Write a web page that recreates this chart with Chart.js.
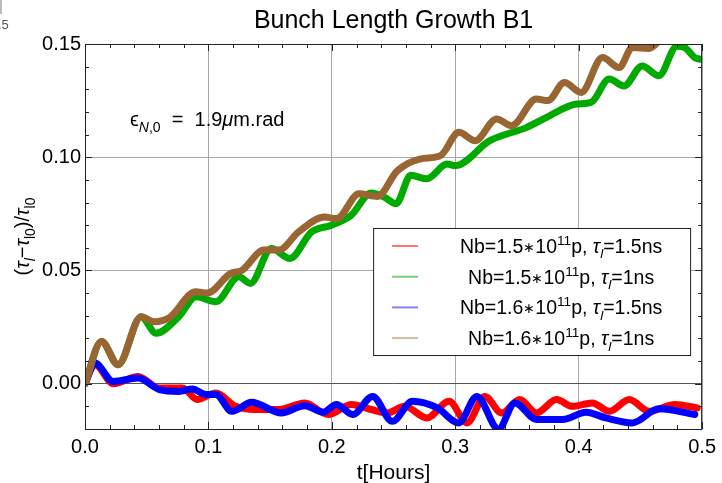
<!DOCTYPE html>
<html>
<head>
<meta charset="utf-8">
<script src="https://cdn.jsdelivr.net/npm/chart.js@4.4.1/dist/chart.umd.min.js"></script>
<style>
  html, body { margin: 0; padding: 0; background: #fff; }
  #wrap { width: 722px; height: 483px; position: relative; }
</style>
</head>
<body>
<div id="wrap"><canvas id="chart" width="722" height="483"></canvas></div>
<script>
// series values (t in hours, relative bunch length growth)
const redT = [0, 0.008, 0.023, 0.043, 0.060, 0.079, 0.091, 0.106, 0.122, 0.138, 0.157, 0.178, 0.197, 0.216, 0.232, 0.245, 0.259, 0.277, 0.295, 0.3095, 0.324, 0.3376, 0.3523, 0.3658, 0.382, 0.395, 0.411, 0.425, 0.441, 0.457, 0.478, 0.496]
const redV = [0, 0.0085, 0.0, 0.0032, -0.0019, -0.0019, -0.007, -0.0041, -0.010, -0.0114, -0.0114, -0.0085, -0.0136, -0.0092, -0.0114, -0.0129, -0.010, -0.0151, -0.0078, -0.0173, -0.0056, -0.0129, -0.007, -0.0129, -0.007, -0.010, -0.0085, -0.0122, -0.007, -0.0122, -0.0092, -0.0107]

const greenT = [0, 0.0134, 0.0268, 0.0455, 0.0576, 0.076, 0.090, 0.106, 0.1246, 0.134, 0.151, 0.166, 0.1835, 0.1996, 0.2157, 0.2318, 0.2425, 0.252, 0.264, 0.277, 0.2934, 0.300, 0.328, 0.358, 0.374, 0.398, 0.41, 0.4247, 0.4367, 0.4515, 0.4649, 0.4796, 0.486, 0.494, 0.498]
const greenV = [0, 0.0186, 0.0084, 0.0296, 0.0223, 0.0296, 0.0384, 0.0362, 0.0472, 0.0443, 0.0597, 0.0553, 0.067, 0.070, 0.0744, 0.0842, 0.0824, 0.0795, 0.092, 0.0905, 0.097, 0.0963, 0.1073, 0.1132, 0.1176, 0.1235, 0.1242, 0.1345, 0.1315, 0.1403, 0.136, 0.149, 0.1484, 0.144, 0.1433]

const blueT = [0, 0.008, 0.0228, 0.0429, 0.0603, 0.076, 0.087, 0.098, 0.106, 0.119, 0.135, 0.159, 0.178, 0.193, 0.2036, 0.217, 0.233, 0.249, 0.2653, 0.2854, 0.3028, 0.3175, 0.335, 0.3483, 0.3658, 0.387, 0.406, 0.422, 0.4435, 0.4649, 0.494]
const blueV = [0, 0.0091, 0.001, 0.0025, -0.0026, -0.0034, -0.0023, -0.0048, -0.0048, -0.0122, -0.0082, -0.0129, -0.0097, -0.0126, -0.0092, -0.0136, -0.0056, -0.0166, -0.0078, -0.0107, -0.0173, -0.0056, -0.020, -0.0085, -0.0158, -0.0158, -0.0126, -0.0151, -0.0173, -0.0111, -0.0136]

const brownT = [0, 0.0134, 0.0268, 0.0455, 0.056, 0.068, 0.0898, 0.099, 0.118, 0.127, 0.145, 0.157, 0.173, 0.194, 0.204, 0.222, 0.237, 0.253, 0.272, 0.288, 0.303, 0.316, 0.3336, 0.3457, 0.3657, 0.375, 0.3885, 0.402, 0.4193, 0.4328, 0.4434, 0.4568, 0.47, 0.49]
const brownV = [0, 0.0186, 0.0084, 0.0296, 0.0274, 0.029, 0.0406, 0.040, 0.0487, 0.050, 0.059, 0.059, 0.067, 0.0736, 0.0729, 0.0839, 0.0827, 0.094, 0.0993, 0.1007, 0.111, 0.1073, 0.1169, 0.1139, 0.1257, 0.125, 0.133, 0.1286, 0.144, 0.1396, 0.1484, 0.148, 0.154, 0.158]

// legend parameters
const nbValues = ['1.5', '1.5', '1.6', '1.6']
const tauValues = ['1.5', '1', '1.5', '1']
const lineColors = ['#ff0000', '#00aa00', '#0000ff', '#996633']
const legendColors = ['rgba(255,0,0,0.55)', 'rgba(0,170,0,0.55)', 'rgba(0,0,255,0.5)', 'rgba(153,102,51,0.45)']
const drawOrder = [4, 2, 3, 1]

// tick positions
const xTicks = [0, 0.1, 0.2, 0.3, 0.4, 0.5]
const yTicks = [0, 0.05, 0.10, 0.15]

const FONT = '"Liberation Sans", Arial, sans-serif'

function zip(ts, vs){
    return ts.map((t, i) => ({x: t, y: vs[i]}))
}

//draws a run of text pieces: n normal, i italic, sup, sub, isub (italic subscript), small
function richParts(ctx, parts, size){
    return parts.map(([text, kind]) => {
        let small = kind == 'sup' || kind == 'sub' || kind == 'isub'
        let sz = small ? size * 0.7 : (kind == 'small' ? size * 0.7 : size)
        let italic = kind == 'i' || kind == 'isub'
        let font = `${italic ? 'italic ' : ''}${sz}px ${FONT}`
        ctx.font = font
        let dy = kind == 'sup' ? -size * 0.42 : (small ? size * 0.28 : 0)
        if(kind == 'small') dy = -size * 0.05
        return {text, font, dy, w: ctx.measureText(text).width}
    })
}

function drawRich(ctx, parts, x, y, size, align){
    let items = richParts(ctx, parts, size)
    let total = items.reduce((s, it) => s + it.w, 0)
    let cx = align == 'center' ? x - total / 2 : x
    ctx.textBaseline = 'alphabetic'
    ctx.textAlign = 'left'
    items.forEach(it => {
        ctx.font = it.font
        ctx.fillText(it.text, cx, y + it.dy)
        cx += it.w
    })
}

//frame, inward ticks, annotations and legend
const decorations = {
    id: 'decorations',
    afterDraw(chart){
        let ctx = chart.ctx
        let a = chart.chartArea
        let xs = chart.scales.x
        let ys = chart.scales.y
        ctx.save()

        // frame
        ctx.strokeStyle = '#222'
        ctx.lineWidth = 1
        ctx.strokeRect(a.left + 0.5, a.top + 0.5, a.right - a.left - 1, a.bottom - a.top)

        // ticks on all four sides
        ctx.beginPath()
        for(let i = 0; i <= 25; i++){
            let v = i * 0.02
            let px = Math.round(xs.getPixelForValue(v)) + 0.5
            let len = i % 5 == 0 ? 7 : 4
            ctx.moveTo(px, a.bottom); ctx.lineTo(px, a.bottom - len)
            ctx.moveTo(px, a.top); ctx.lineTo(px, a.top + len)
        }
        for(let i = -2; i <= 15; i++){
            let v = i * 0.01
            let py = Math.round(ys.getPixelForValue(v)) + 0.5
            let len = i % 5 == 0 ? 7 : 4
            ctx.moveTo(a.left, py); ctx.lineTo(a.left + len, py)
            ctx.moveTo(a.right, py); ctx.lineTo(a.right - len, py)
        }
        ctx.stroke()

        ctx.fillStyle = '#000'
        // title
        ctx.font = `25px ${FONT}`
        ctx.textAlign = 'center'
        ctx.textBaseline = 'alphabetic'
        ctx.fillText('Bunch Length Growth B1', (a.left + a.right) / 2, 28)

        // stray crop remnant in the corner
        ctx.fillStyle = '#555'
        ctx.font = `13px ${FONT}`
        ctx.textAlign = 'left'
        ctx.fillText('.5', -2, 29)
        ctx.fillStyle = '#bbb'
        ctx.fillRect(0, 0, 2, 14)
        ctx.fillStyle = '#000'

        // y axis title (rotated)
        ctx.save()
        ctx.translate(29, (a.top + a.bottom) / 2)
        ctx.rotate(-Math.PI / 2)
        drawRich(ctx, [['(', 'n'], ['τ', 'i'], ['l', 'isub'], ['−', 'n'], ['τ', 'i'], ['l0', 'sub'], [')/', 'n'], ['τ', 'i'], ['l0', 'sub']], 0, 0, 20, 'center')
        ctx.restore()

        // emittance note
        drawRich(ctx, [['ϵ', 'n'], ['N', 'isub'], [',0', 'sub'], ['  =  1.9', 'n'], ['μ', 'i'], ['m.rad', 'n']], 130, 126, 20, 'left')

        // legend box
        let lx = a.right - 329, ly = a.top + 184, lw = 317, lh = 127
        ctx.fillStyle = '#fff'
        ctx.fillRect(lx, ly, lw, lh)
        ctx.strokeStyle = '#222'
        ctx.lineWidth = 1
        ctx.strokeRect(lx + 0.5, ly + 0.5, lw, lh)
        nbValues.forEach((nb, i) => {
            let rowY = ly + 18 + i * 30.7
            ctx.strokeStyle = legendColors[i]
            ctx.lineWidth = 2
            ctx.beginPath()
            ctx.moveTo(lx + 19, rowY)
            ctx.lineTo(lx + 45, rowY)
            ctx.stroke()
            ctx.fillStyle = '#000'
            drawRich(ctx, [[`Nb=${nb}`, 'n'], ['∗', 'small'], ['10', 'n'], ['11', 'sup'], ['p, ', 'n'], ['τ', 'i'], ['l', 'isub'], [`=${tauValues[i]}ns`, 'n']], lx + 188, rowY + 7, 19.5, 'center')
        })
        ctx.restore()
    }
}

let datasets = [
    [redT, redV], [greenT, greenV], [blueT, blueV], [brownT, brownV]
].map(([ts, vs], i) => ({
    label: `Nb=${nbValues[i]}*10^11p, τl=${tauValues[i]}ns`,
    data: zip(ts, vs),
    borderColor: lineColors[i],
    backgroundColor: lineColors[i],
    borderWidth: 7,
    pointRadius: 0,
    cubicInterpolationMode: 'monotone',
    borderCapStyle: 'round',
    borderJoinStyle: 'round',
    order: drawOrder[i],
    clip: 0
}))

new Chart(document.querySelector('#chart').getContext('2d'), {
    type: 'line',
    data: {datasets},
    options: {
        responsive: false,
        animation: false,
        layout: {padding: {top: 44, right: 15, left: 0, bottom: 0}},
        plugins: {
            legend: {display: false},
            title: {display: false},
            tooltip: {enabled: false}
        },
        scales: {
            x: {
                type: 'linear',
                min: 0,
                max: 0.5,
                afterBuildTicks: s => { s.ticks = xTicks.map(v => ({value: v})) },
                afterFit: s => { s.height = 54 },
                border: {display: false},
                grid: {drawTicks: false, color: '#a8a8a8', lineWidth: 1},
                ticks: {
                    padding: 6,
                    color: '#000',
                    font: {family: FONT, size: 20},
                    callback: v => v.toFixed(1)
                },
                title: {
                    display: true,
                    text: 't[Hours]',
                    color: '#000',
                    font: {family: FONT, size: 21},
                    padding: {top: 0, bottom: -3}
                }
            },
            y: {
                min: -0.02,
                max: 0.15,
                afterBuildTicks: s => { s.ticks = yTicks.map(v => ({value: v})) },
                afterFit: s => { s.width = 85 },
                border: {display: false},
                grid: {
                    drawTicks: false,
                    lineWidth: 1,
                    color: c => c.tick && c.tick.value == 0 ? '#555' : '#a8a8a8'
                },
                ticks: {
                    padding: 4,
                    color: '#000',
                    font: {family: FONT, size: 20},
                    callback: v => v.toFixed(2)
                }
            }
        }
    },
    plugins: [decorations]
})
</script>
</body>
</html>
